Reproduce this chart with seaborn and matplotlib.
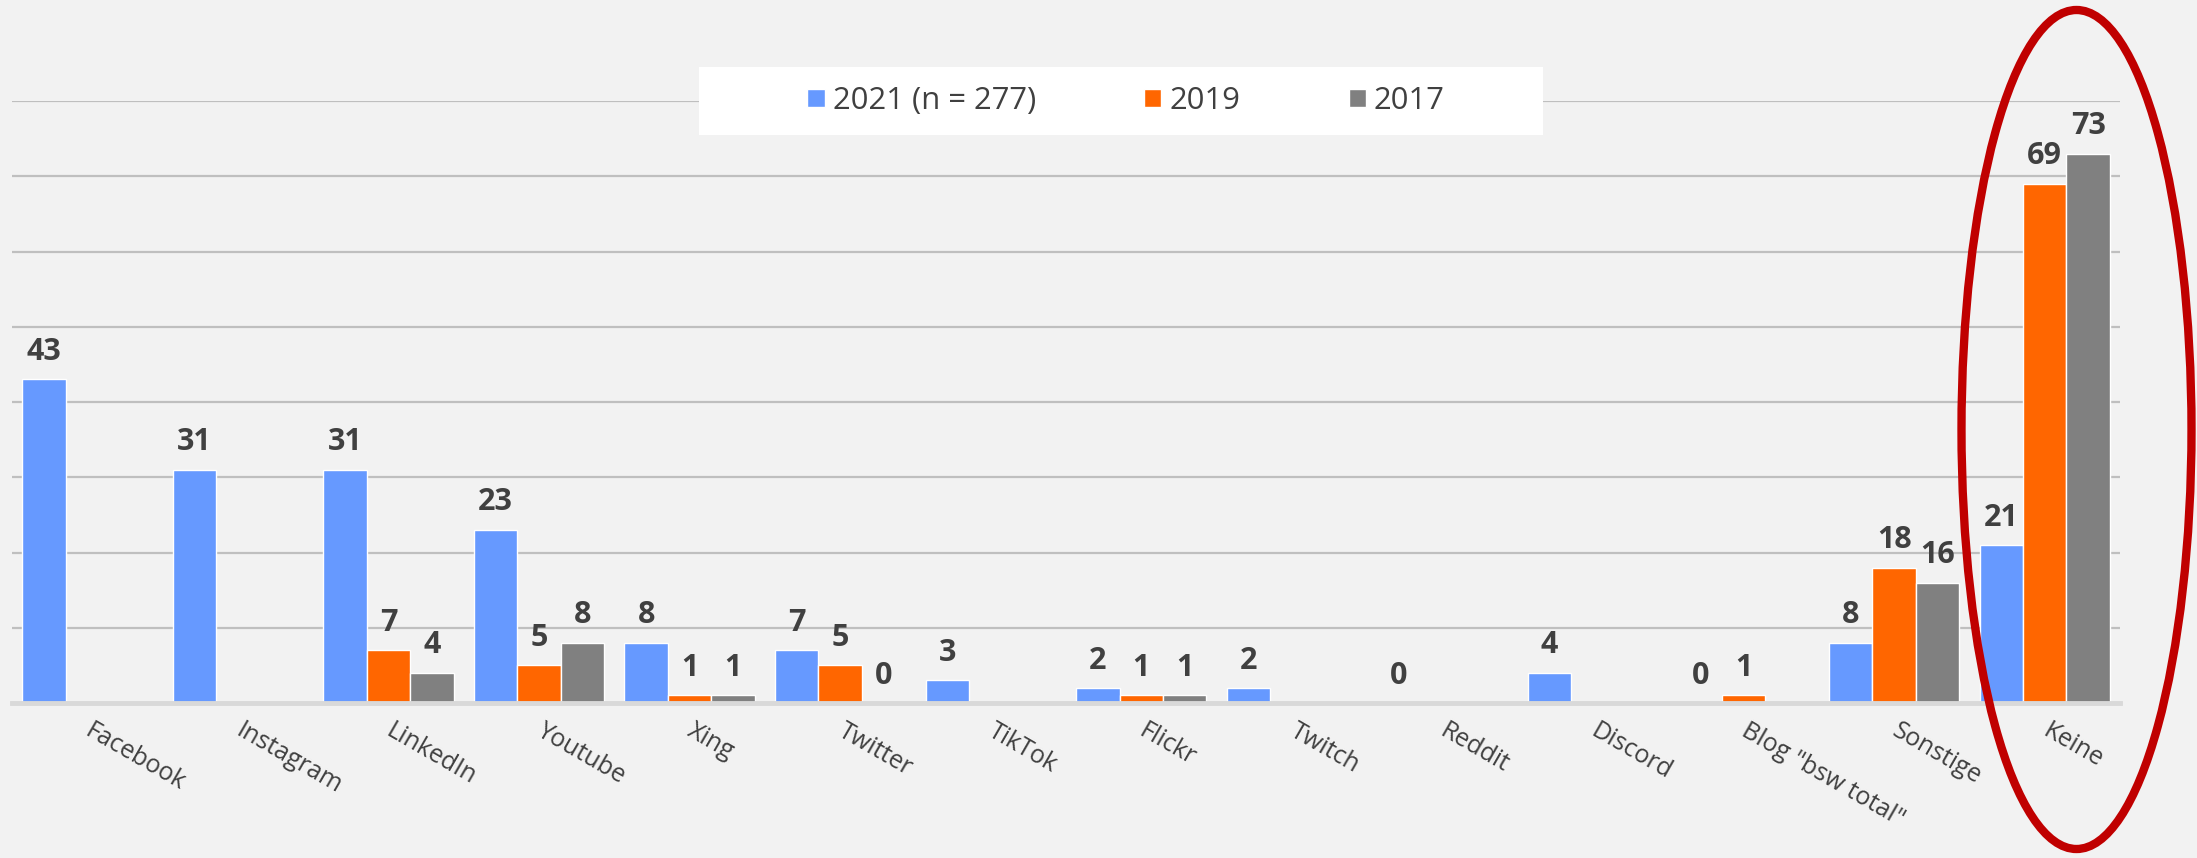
import numpy as np
import pandas as pd
import matplotlib
matplotlib.use("Agg")
import matplotlib.pyplot as plt
from matplotlib.patches import Ellipse, Rectangle
from matplotlib.transforms import ScaledTranslation
import seaborn as sns

categories = ["Facebook", "Instagram", "LinkedIn", "Youtube", "Xing", "Twitter",
              "TikTok", "Flickr", "Twitch", "Reddit", "Discord",
              'Blog "bsw total"', "Sonstige", "Keine"]
series_names = ["2021 (n = 277)", "2019", "2017"]
v2021 = [43, 31, 31, 23, 8, 7, 3, 2, 2, 0, 4, 0, 8, 21]
v2019 = [np.nan, np.nan, 7, 5, 1, 5, np.nan, 1, np.nan, np.nan, np.nan, 1, 18, 69]
v2017 = [np.nan, np.nan, 4, 8, 1, 0, np.nan, 1, np.nan, np.nan, np.nan, np.nan, 16, 73]
colors = ["#6699FF", "#FF6600", "#808080"]

rows = []
for name, vals in zip(series_names, [v2021, v2019, v2017]):
    for c, v in zip(categories, vals):
        if not np.isnan(v):
            rows.append({"cat": c, "year": name, "val": v})
df = pd.DataFrame(rows)

sns.set_theme(style="white")
plt.rcParams["font.family"] = ["Open Sans", "DejaVu Sans"]

W, H = 2197, 858
fig = plt.figure(figsize=(W / 100, H / 100), dpi=100, facecolor="#F2F2F2")
ax = fig.add_axes([12 / W, 1 - 703 / H, 2108 / W, 602 / H])
ax.set_facecolor("#F2F2F2")

sns.barplot(data=df, x="cat", y="val", hue="year", order=categories,
            hue_order=series_names, palette=colors, saturation=1,
            width=0.865, dodge=True, ax=ax, legend=True, zorder=3)

ax.set_xlim(-0.5, len(categories) - 0.5)
ax.set_ylim(0, 80)
ax.set_yticks(np.arange(10, 81, 10))
ax.yaxis.grid(True, color="#BFBFBF", linewidth=1.6, zorder=0)
ax.set_axisbelow(True)
ax.tick_params(axis="y", left=False, labelleft=False)
for s in ["top", "right", "left"]:
    ax.spines[s].set_visible(False)
ax.spines["bottom"].set_color("#D9D9D9")
ax.spines["bottom"].set_linewidth(3.5)
ax.spines["bottom"].set_zorder(4)
ax.set_xlabel("")
ax.set_ylabel("")

# category boundary ticks
ax.set_xticks(np.arange(-0.5, len(categories), 1.0), minor=True)
ax.tick_params(axis="x", which="minor", length=7, width=3, color="#D9D9D9", direction="out")
ax.tick_params(axis="x", which="major", length=0, pad=11)
ax.set_xticks(range(len(categories)))
ax.set_xticklabels(categories, rotation=-30, ha="left", va="top",
                   rotation_mode="anchor", fontsize=18, color="#404040")
shift = ScaledTranslation(6 / 100, 0, fig.dpi_scale_trans)
for lbl in ax.get_xticklabels():
    lbl.set_transform(lbl.get_transform() + shift)

# value labels
for cont in ax.containers:
    for patch in cont.patches:
        h = patch.get_height()
        if np.isnan(h):
            continue
        ax.annotate(f"{int(round(h))}", (patch.get_x() + patch.get_width() / 2, h),
                    xytext=(0, 14), textcoords="offset points", ha="center",
                    va="baseline", fontsize=22, fontweight="bold", color="#404040",
                    zorder=5)

# legend with white box
leg = ax.legend(loc="center", bbox_to_anchor=(1126 / W, 1 - 101 / H),
                bbox_transform=fig.transFigure, ncol=3, frameon=False,
                fontsize=22.3, handlelength=0.55, handleheight=0.55,
                handletextpad=0.26, columnspacing=3.5, labelcolor="#404040",
                borderpad=0, borderaxespad=0)
leg.set_zorder(10)
box = Rectangle((699 / W, 1 - 135 / H), 844 / W, 68 / H,
                transform=fig.transFigure, facecolor="white",
                edgecolor="none", zorder=9, clip_on=False)
ax.add_patch(box)

# highlight ellipse
fig.add_artist(Ellipse((2076.5 / W, 1 - 429.5 / H), 230 / W, 839 / H,
                       transform=fig.transFigure, facecolor="none",
                       edgecolor="#C00000", linewidth=6, zorder=20))

fig.savefig("out.png", dpi=100, facecolor=fig.get_facecolor())
